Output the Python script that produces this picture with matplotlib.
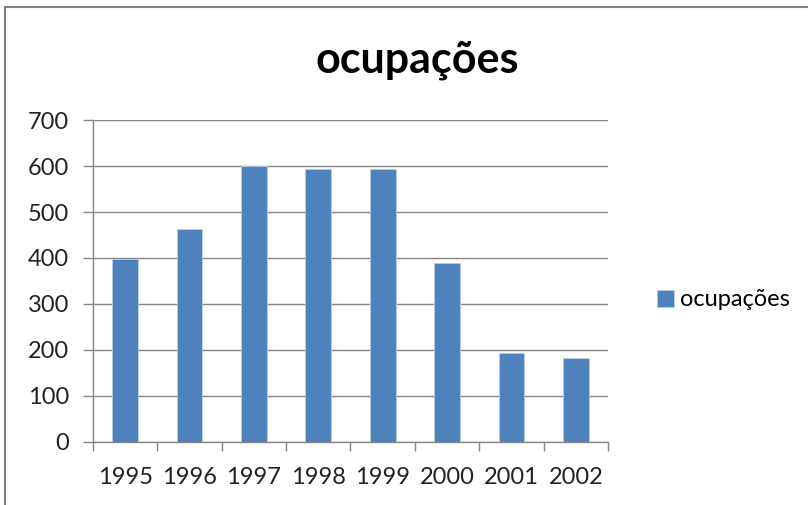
import matplotlib.pyplot as plt
from matplotlib.patches import Rectangle

# data
anos = ['1995', '1996', '1997', '1998', '1999', '2000', '2001', '2002']
ocupacoes = [398, 462, 600, 593, 593, 389, 194, 183]
y_ticks = [0, 100, 200, 300, 400, 500, 600, 700]

plt.rcParams['font.family'] = ['Lato', 'DejaVu Sans']

fig = plt.figure(figsize=(8.08, 5.05), dpi=100)
ax = fig.add_axes([0.115, 0.1254, 0.6375, 0.6366])

pos = list(range(len(anos)))
ax.bar(pos, ocupacoes, width=0.4, color='#4F81BD', edgecolor='#B9CDE5',
       linewidth=0.6, label='ocupações', zorder=3)

ax.set_xlim(-0.5, len(anos) - 0.5)
ax.set_ylim(0, 700)
ax.set_yticks(y_ticks)
ax.set_xticks(pos)
ax.set_xticklabels(anos)
ax.set_xticks([p - 0.5 for p in range(len(anos) + 1)], minor=True)
ax.tick_params(axis='x', which='major', length=0, pad=18, labelsize=17, colors='#222222')
ax.tick_params(axis='x', which='minor', length=6.5, width=1, color='#868686')
ax.tick_params(axis='y', length=7, width=1, color='#868686', labelsize=17,
               labelcolor='#222222', pad=10)

ax.yaxis.grid(True, color='#868686', linewidth=1, zorder=0)
for s in ['top', 'right']:
    ax.spines[s].set_visible(False)
for s in ['left', 'bottom']:
    ax.spines[s].set_color('#868686')
    ax.spines[s].set_linewidth(1)

# title centred on the chart area, not on the plot
fig.text(417 / 808, 1 - 60 / 505, 'ocupações', fontsize=31, fontweight='bold',
         ha='center', va='center')

fig.legend(loc='center left', bbox_to_anchor=(657 / 808, 1 - 300 / 505),
           bbox_transform=fig.transFigure, frameon=False, fontsize=17,
           borderpad=0, borderaxespad=0, handlelength=0.72, handleheight=0.72,
           handletextpad=0.25)

# outer chart border (only left and top visible in the picture)
fig.patches.append(Rectangle((5 / 808, -0.1), 1.2, 1.1 - 7 / 505,
                             transform=fig.transFigure, fill=False,
                             edgecolor='#808080', linewidth=1.5))

fig.savefig('out.png', dpi=100)
